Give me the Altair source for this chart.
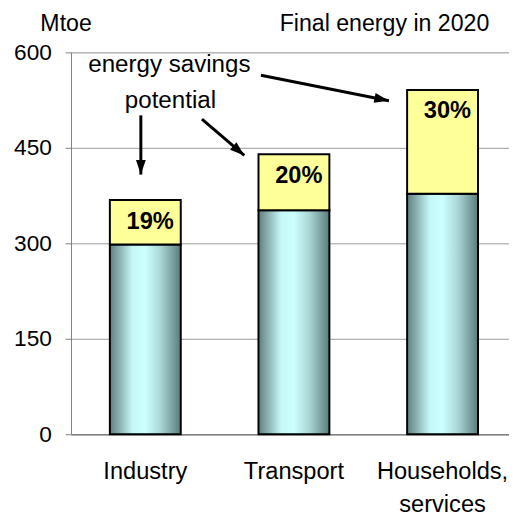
import altair as alt
import pandas as pd

# ---- data ----
categories = ["Industry", "Transport", "Households,\nservices"]
base_energy = [298, 352, 378]          # Mtoe consumed after savings
savings_potential = [70, 88, 163]      # Mtoe of savings potential
savings_pct = [19, 20, 30]             # % labels
y_ticks = [0, 150, 300, 450, 600]

df = pd.DataFrame({
    "category": categories,
    "base": base_energy,
    "total": [b + s for b, s in zip(base_energy, savings_potential)],
    "pct": [f"{p}%" for p in savings_pct],
})

# annotation geometry (x in category units 0..3, y in Mtoe)
arrows = pd.DataFrame({
    "x": [1.278, 0.470, 0.881],
    "y": [564, 501, 495],
    "x2": [2.139, 0.470, 1.166],
    "y2": [524, 408, 438],
    "angle": [101.3, 180.0, 130.7],
})
notes = pd.DataFrame({
    "x": [0.662, 0.669],
    "y": [580, 524],
    "text": ["energy savings", "potential"],
})
headers = pd.DataFrame({"text": ["Mtoe", "Final energy in 2020"],
                        "px": [-5, 318.5], "py": [-29, -29]})

FONT = "Liberation Sans"
W, H = 445, 388
RANGE_X = [0, 453]

ydom = alt.Scale(domain=[0, 600], nice=False, zero=True)
band_scale = alt.Scale(range=RANGE_X, paddingInner=0.523, paddingOuter=0.2615)
xband = alt.X(
    "category:N", sort=categories, scale=band_scale,
    axis=alt.Axis(title=None, ticks=False, labelAngle=0, labelFontSize=24,
                  labelPadding=26, labelLineHeight=34, labelColor="black",
                  domainColor="#808080", domainWidth=1.5,
                  labelExpr="split(datum.label, '\\n')", labelFont=FONT),
)

grad = alt.Gradient(
    gradient="linear", x1=0, x2=1, y1=0, y2=0,
    stops=[
        alt.GradientStop(color="#5f7f7f", offset=0),
        alt.GradientStop(color="#8db3b3", offset=0.14),
        alt.GradientStop(color="#c6f8f8", offset=0.32),
        alt.GradientStop(color="#ccffff", offset=0.5),
        alt.GradientStop(color="#a9d5d5", offset=0.72),
        alt.GradientStop(color="#5c7b7b", offset=1),
    ],
)

base = alt.Chart(df)

bars_base = base.mark_bar(fill=grad, stroke="black", strokeWidth=2).encode(
    x=xband,
    y=alt.Y("base:Q", scale=ydom,
            axis=alt.Axis(title=None, values=y_ticks, tickSize=6,
                          labelPadding=14, labelFontSize=23, labelColor="black",
                          gridColor="#9a9a9a", domainColor="#808080",
                          tickColor="#808080", labelFont=FONT)),
)
bars_save = base.mark_bar(fill="#ffff99", stroke="black", strokeWidth=2).encode(
    x=xband,
    y=alt.Y("base:Q", scale=ydom),
    y2="total:Q",
)
pct_text = base.mark_text(fontSize=24, fontWeight="bold", font=FONT,
                          baseline="middle", dy=22, dx=5, color="black").encode(
    x=xband,
    y=alt.Y("total:Q", scale=ydom),
    text="pct:N",
)
bars = alt.layer(bars_base, bars_save, pct_text)

ann_scale = alt.Scale(domain=[0, 3], range=RANGE_X, nice=False, zero=False)
arrow_lines = alt.Chart(arrows).mark_rule(strokeWidth=3, color="black").encode(
    x=alt.X("x:Q", scale=ann_scale, axis=None),
    y=alt.Y("y:Q", scale=ydom), x2="x2:Q", y2="y2:Q",
)
arrow_heads = alt.Chart(arrows).mark_point(
    shape="M0,0L-0.42,1.25L0.42,1.25Z", filled=True, color="black",
    opacity=1, size=560,
).encode(
    x=alt.X("x2:Q", scale=ann_scale, axis=None),
    y=alt.Y("y2:Q", scale=ydom),
    angle=alt.Angle("angle:Q", scale=None),
)
note_text = alt.Chart(notes).mark_text(fontSize=24.5, font=FONT, color="black",
                                       baseline="middle").encode(
    x=alt.X("x:Q", scale=ann_scale, axis=None),
    y=alt.Y("y:Q", scale=ydom), text="text:N",
)
header_text = alt.Chart(headers).mark_text(fontSize=23.5, font=FONT, color="black",
                                           baseline="middle").encode(
    x=alt.X("px:Q", scale=None, axis=None), y=alt.Y("py:Q", scale=None),
    text="text:N",
)
annotations = alt.layer(arrow_lines, arrow_heads, note_text, header_text)

chart = alt.layer(bars, annotations).resolve_scale(x="independent").properties(
    width=W, height=H,
    autosize=alt.AutoSizeParams(type="none"),
    padding={"left": 64, "top": 41, "right": 0, "bottom": 80},
).configure_view(stroke=None).configure(font=FONT)

chart.save("out.html", embed_options={"renderer": "svg", "actions": False})
